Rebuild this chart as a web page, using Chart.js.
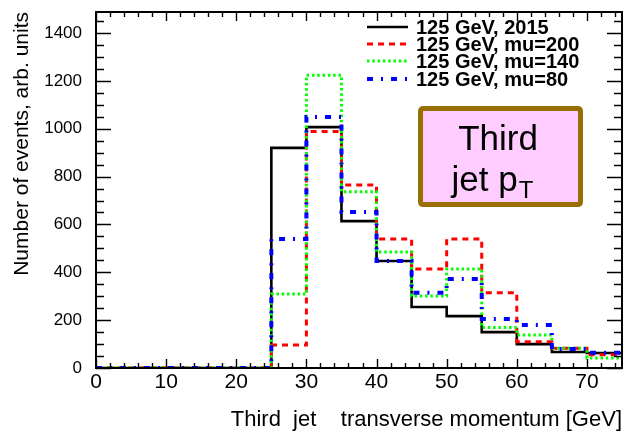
<!DOCTYPE html>
<html>
<head>
<meta charset="utf-8">
<script src="https://cdn.jsdelivr.net/npm/chart.js@4/dist/chart.umd.min.js"></script>
<style>
  html, body { margin: 0; padding: 0; background: #fff; }
  canvas { display: block; }
</style>
</head>
<body>
<canvas id="c" width="623" height="432"></canvas>
<script>
// Bin edges of the third-jet pT histogram (GeV), 5 GeV bins
const binEdges = [0, 5, 10, 15, 20, 25, 30, 35, 40, 45, 50, 55, 60, 65, 70, 75];

// Bin contents (arb. units), one value per bin
const run2015 = [0, 0, 0, 0, 0, 920, 1007, 614, 447, 255, 217, 150, 100, 67, 63];
const mu200   = [0, 0, 0, 0, 0, 96, 988, 765, 539, 414, 539, 315, 110, 83, 55];
const mu140   = [0, 0, 0, 0, 0, 309, 1224, 737, 485, 301, 414, 169, 138, 83, 42];
const mu80    = [0, 0, 0, 0, 0, 539, 1049, 652, 447, 315, 372, 205, 180, 79, 64];

const seriesLabels = ['125 GeV, 2015', '125 GeV, mu=200', '125 GeV, mu=140', '125 GeV, mu=80'];

const xTickStep = 10;
const yTickStep = 200;
const xRange = [0, 75];
const yRange = [0, 1488];

const FONT = "'Liberation Sans', Arial, Helvetica, sans-serif";

// Turn bin contents into step-line points: one point per left edge plus the closing edge
function toSteps(values) {
  const pts = values.map((v, i) => ({ x: binEdges[i], y: v }));
  pts.push({ x: binEdges[binEdges.length - 1], y: values[values.length - 1] });
  return pts;
}

// Frame with ROOT-style inward ticks on all four sides
const frameTicks = {
  id: 'frameTicks',
  afterDatasetsDraw(chart) {
    const { ctx, chartArea: a, scales: { x, y } } = chart;
    ctx.save();
    ctx.strokeStyle = '#000';
    ctx.lineWidth = 1.4;
    ctx.beginPath();
    for (let v = x.min; v <= x.max; v += 2) {
      const px = Math.round(x.getPixelForValue(v)) + 0.5;
      const len = v % 10 === 0 ? 9 : 5;
      ctx.moveTo(px, a.bottom); ctx.lineTo(px, a.bottom - len);
      ctx.moveTo(px, a.top); ctx.lineTo(px, a.top + len);
    }
    for (let v = y.min; v <= y.max; v += 50) {
      const py = Math.round(y.getPixelForValue(v)) + 0.5;
      const len = v % 200 === 0 ? 15 : 8;
      ctx.moveTo(a.left, py); ctx.lineTo(a.left + len, py);
      ctx.moveTo(a.right, py); ctx.lineTo(a.right - len, py);
    }
    ctx.stroke();
    ctx.lineWidth = 2;
    ctx.strokeRect(a.left, a.top, a.right - a.left, a.bottom - a.top);
    ctx.restore();
  }
};

// Legend in the top-right corner plus the "Third jet pT" label box
const overlays = {
  id: 'overlays',
  afterDraw(chart) {
    const { ctx } = chart;
    ctx.save();
    // legend
    const rows = [27, 44, 61, 79];
    chart.data.datasets.forEach((ds, r) => {
      const yy = rows[r];
      ctx.beginPath();
      ctx.strokeStyle = ds.borderColor;
      ctx.lineWidth = ds.borderWidth;
      ctx.setLineDash(ds.borderDash || []);
      ctx.moveTo(367, yy); ctx.lineTo(408, yy);
      ctx.stroke();
      ctx.setLineDash([]);
      ctx.fillStyle = '#000';
      ctx.font = 'bold 20px ' + FONT;
      ctx.textBaseline = 'middle';
      ctx.textAlign = 'left';
      ctx.fillText(ds.label, 416, yy + 1);
    });

    // label box
    const bx = 420.5, by = 108.5, bw = 160, bh = 96, r = 3;
    ctx.beginPath();
    ctx.moveTo(bx + r, by);
    ctx.lineTo(bx + bw - r, by); ctx.quadraticCurveTo(bx + bw, by, bx + bw, by + r);
    ctx.lineTo(bx + bw, by + bh - r); ctx.quadraticCurveTo(bx + bw, by + bh, bx + bw - r, by + bh);
    ctx.lineTo(bx + r, by + bh); ctx.quadraticCurveTo(bx, by + bh, bx, by + bh - r);
    ctx.lineTo(bx, by + r); ctx.quadraticCurveTo(bx, by, bx + r, by);
    ctx.closePath();
    ctx.fillStyle = '#ffccff';
    ctx.fill();
    ctx.lineWidth = 5;
    ctx.strokeStyle = '#996e00';
    ctx.stroke();

    ctx.fillStyle = '#000';
    ctx.textBaseline = 'alphabetic';
    ctx.textAlign = 'center';
    ctx.font = '35px ' + FONT;
    ctx.fillText('Third', 498, 150);
    ctx.textAlign = 'left';
    const main = 'jet p';
    const wMain = ctx.measureText(main).width;
    ctx.font = '24px ' + FONT;
    const wSub = ctx.measureText('T').width;
    const x0 = 492 - (wMain + wSub) / 2;
    ctx.font = '35px ' + FONT;
    ctx.fillText(main, x0, 191);
    ctx.font = '24px ' + FONT;
    ctx.fillText('T', x0 + wMain + 1, 198);
    ctx.restore();
  }
};

new Chart(document.getElementById('c'), {
  type: 'line',
  data: {
    datasets: [
      { label: seriesLabels[0], data: toSteps(run2015), borderColor: '#000000', borderWidth: 2.6, borderDash: [], order: 3 },
      { label: seriesLabels[1], data: toSteps(mu200), borderColor: '#ff0000', borderWidth: 3, borderDash: [6, 5], order: 2 },
      { label: seriesLabels[2], data: toSteps(mu140), borderColor: '#00ff00', borderWidth: 3, borderDash: [2.5, 2.8], order: 1 },
      { label: seriesLabels[3], data: toSteps(mu80), borderColor: '#0000ff', borderWidth: 4, borderDash: [6, 8, 2, 8], order: 0 }
    ]
  },
  options: {
    responsive: false,
    animation: false,
    layout: { padding: { left: 0, right: 1, top: 12, bottom: 0 } },
    elements: { point: { radius: 0 }, line: { tension: 0, stepped: true, fill: false } },
    plugins: { legend: { display: false }, tooltip: { enabled: false } },
    scales: {
      x: {
        type: 'linear',
        min: xRange[0], max: xRange[1],
        afterFit(s) { s.height = 64; s.paddingLeft = 0; s.paddingRight = 0; },
        grid: { display: false, drawTicks: false },
        border: { display: false },
        ticks: {
          stepSize: xTickStep, includeBounds: false, maxRotation: 0, autoSkip: false,
          padding: 2, color: '#000', font: { family: FONT, size: 21 },
          callback: (v) => String(v)
        },
        title: {
          display: true, text: 'Third  jet    transverse momentum [GeV]', align: 'end',
          color: '#000', font: { family: FONT, size: 22 }, padding: { top: 0, bottom: -1 }
        }
      },
      y: {
        type: 'linear',
        min: yRange[0], max: yRange[1],
        afterFit(s) { s.width = 96; s.paddingTop = 0; s.paddingBottom = 0; },
        grid: { display: false, drawTicks: false },
        border: { display: false },
        ticks: {
          stepSize: yTickStep, includeBounds: false, autoSkip: false,
          padding: 14, color: '#000', font: { family: FONT, size: 17 },
          callback: (v) => String(v)
        },
        title: {
          display: true, text: 'Number of events, arb. units', align: 'end',
          color: '#000', font: { family: FONT, size: 21 }, padding: { top: 10, bottom: 0 }
        }
      }
    }
  },
  plugins: [frameTicks, overlays]
});
</script>
</body>
</html>
